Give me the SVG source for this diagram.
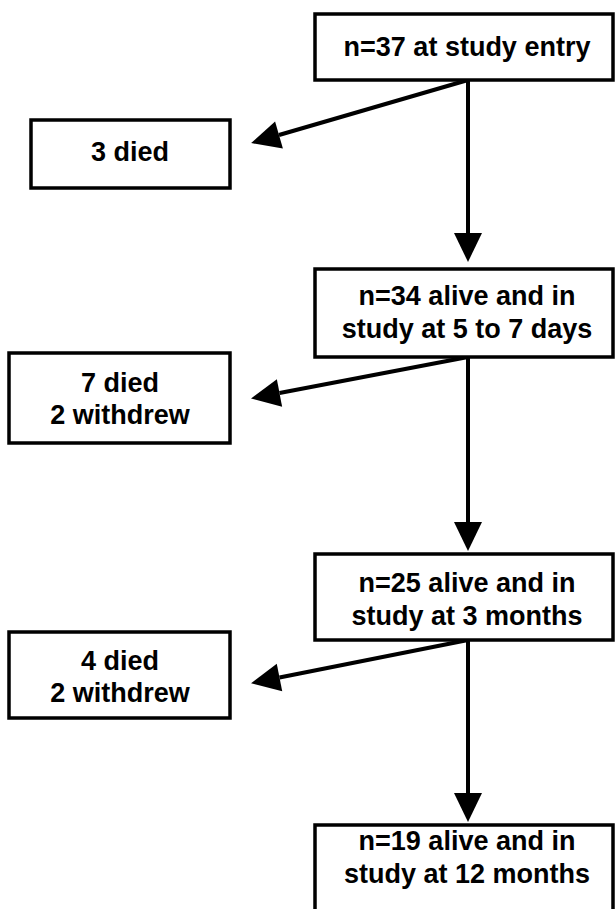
<svg xmlns="http://www.w3.org/2000/svg" width="615" height="909" viewBox="0 0 615 909">
<style>
.box{fill:#fff;stroke:#000;stroke-width:3.5}
.t{font-family:"Liberation Sans",Arial,sans-serif;font-weight:bold;font-size:27px;text-anchor:middle;fill:#000}
.c{stroke:#000;stroke-width:4;fill:none;marker-end:url(#ah)}
</style>
<defs>
<marker id="ah" markerUnits="userSpaceOnUse" markerWidth="30" markerHeight="30" refX="0" refY="14" orient="auto" viewBox="0 0 30 30" overflow="visible">
<path d="M0,0 L29,14 L0,28 Z" fill="#000"/>
</marker>
</defs>
<rect width="615" height="909" fill="#fff"/>
<g id="connectors">
<line class="c" x1="468" y1="80" x2="468" y2="233"/>
<line class="c" x1="468" y1="80" x2="279" y2="135"/>
<line class="c" x1="468" y1="357" x2="468" y2="522"/>
<line class="c" x1="468" y1="357" x2="279.5" y2="393"/>
<line class="c" x1="468" y1="640" x2="468" y2="793"/>
<line class="c" x1="468" y1="640" x2="279.5" y2="677.5"/>
</g>
<g id="n1">
<rect class="box" x="315" y="14" width="298" height="66"/>
<text class="t" x="467" y="56">n=37 at study entry</text>
</g>
<g id="d1">
<rect class="box" x="31" y="120" width="199" height="68"/>
<text class="t" x="130" y="161">3 died</text>
</g>
<g id="n2">
<rect class="box" x="315" y="269" width="298" height="88"/>
<text class="t" x="467" y="305">n=34 alive and in</text>
<text class="t" x="467" y="338">study at 5 to 7 days</text>
</g>
<g id="d2">
<rect class="box" x="9" y="353" width="221" height="90"/>
<text class="t" x="120" y="392">7 died</text>
<text class="t" x="120" y="424">2 withdrew</text>
</g>
<g id="n3">
<rect class="box" x="315" y="554" width="298" height="86"/>
<text class="t" x="467" y="592">n=25 alive and in</text>
<text class="t" x="467" y="625">study at 3 months</text>
</g>
<g id="d3">
<rect class="box" x="9" y="632" width="221" height="86"/>
<text class="t" x="120" y="670">4 died</text>
<text class="t" x="120" y="702">2 withdrew</text>
</g>
<g id="n4">
<rect class="box" x="315" y="825" width="298" height="90"/>
<text class="t" x="467" y="850">n=19 alive and in</text>
<text class="t" x="467" y="883">study at 12 months</text>
</g>
</svg>
